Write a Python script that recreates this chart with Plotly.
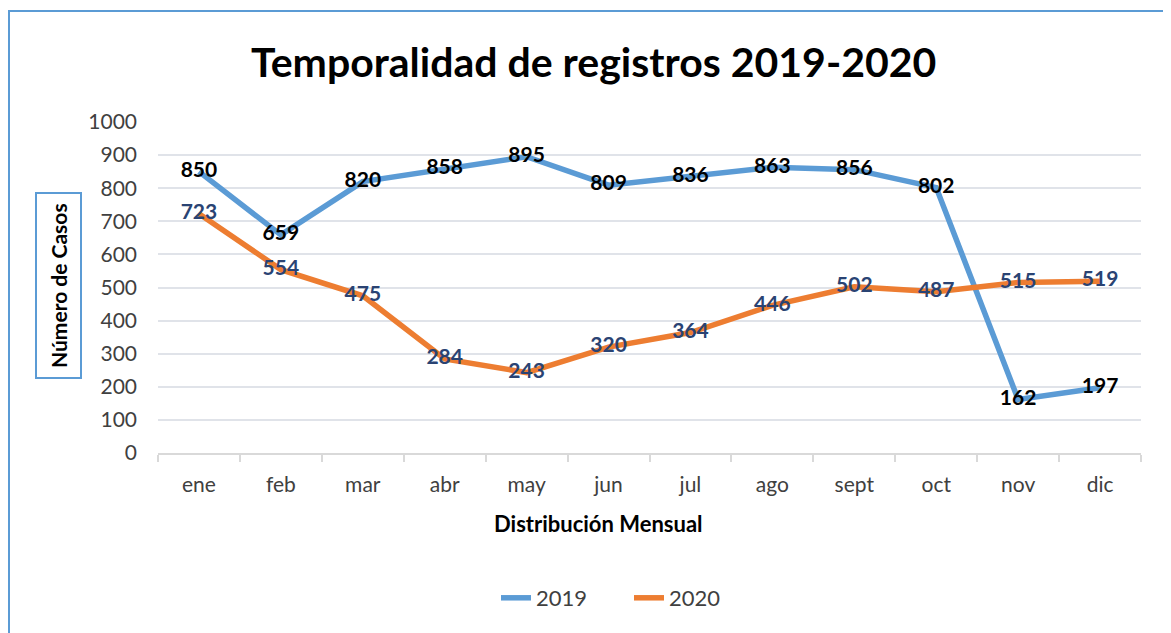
import plotly.graph_objects as go

months = ["ene", "feb", "mar", "abr", "may", "jun", "jul", "ago", "sept", "oct", "nov", "dic"]
casos_2019 = [850, 659, 820, 858, 895, 809, 836, 863, 856, 802, 162, 197]
casos_2020 = [723, 554, 475, 284, 243, 320, 364, 446, 502, 487, 515, 519]

OFF = 8  # page body margin
W, H = 1171 - OFF, 633 - OFF
L, R, T, B = 158 - OFF, 1141 - OFF, 122 - OFF, 453 - OFF  # plot area in figure pixels


def px(x):
    return (x - OFF - L) / (R - L)


def py(y):
    return (B - (y - OFF)) / (B - T)


FONT = "Lato, 'Open Sans', sans-serif"

fig = go.Figure()
fig.add_trace(go.Scatter(
    x=months, y=casos_2019, name="2019", mode="lines+text",
    line=dict(color="#5B9BD5", width=5.5),
    text=[str(v) for v in casos_2019], textposition="middle center",
    textfont=dict(family=FONT, size=21, color="#000000", weight="bold"),
))
fig.add_trace(go.Scatter(
    x=months, y=casos_2020, name="2020", mode="lines+text",
    line=dict(color="#ED7D31", width=5.5),
    text=[str(v) for v in casos_2020], textposition="middle center",
    textfont=dict(family=FONT, size=21, color="#2A4373", weight="bold"),
))

fig.update_layout(
    width=W, height=H,
    margin=dict(l=L, r=W - R, t=T, b=H - B, autoexpand=False),
    paper_bgcolor="white", plot_bgcolor="white",
    font=dict(family=FONT, color="#404040"),
    showlegend=True,
    legend=dict(orientation="h", x=px(629), xanchor="center", y=py(598), yanchor="middle",
                entrywidth=88, entrywidthmode="pixels", itemwidth=30,
                font=dict(size=22, color="#404040")),
    xaxis=dict(type="category", range=[-0.5, 11.5], showgrid=False, showline=True,
               linecolor="#D9D9D9", linewidth=2,
               ticks="outside", tickson="boundaries", ticklen=7, tickcolor="#D9D9D9", tickwidth=2,
               ticklabelstandoff=12,
               tickfont=dict(size=21, color="#404040"), fixedrange=True),
    yaxis=dict(range=[0, 1000], dtick=100, showgrid=True, gridcolor="#E0E3E9", gridwidth=2,
               zeroline=False, showline=False, ticks="", ticklabelstandoff=20,
               tickfont=dict(size=21, color="#404040")),
    annotations=[
        dict(text="<b>Temporalidad de registros 2019-2020</b>", x=px(593), y=py(62),
             xref="paper", yref="paper", showarrow=False, xanchor="center", yanchor="middle",
             font=dict(size=41, color="#000000", family=FONT)),
        dict(text="<b>Distribución Mensual</b>", x=px(598), y=py(523),
             xref="paper", yref="paper", showarrow=False, xanchor="center", yanchor="middle",
             font=dict(size=22, color="#000000", family=FONT)),
        dict(text="<b>Número de Casos</b>", x=px(58), y=py(286), textangle=-90,
             xref="paper", yref="paper", showarrow=False, xanchor="center", yanchor="middle",
             font=dict(size=21, color="#000000", family=FONT),
             bordercolor="#5B9BD5", borderwidth=2, borderpad=9),
    ],
    shapes=[
        dict(type="rect", xref="paper", yref="paper", x0=px(9), x1=px(1400), y0=py(11), y1=py(900),
             line=dict(color="#5B9BD5", width=2), fillcolor="rgba(0,0,0,0)", layer="below"),
    ],
)

fig.write_html("out.html")
